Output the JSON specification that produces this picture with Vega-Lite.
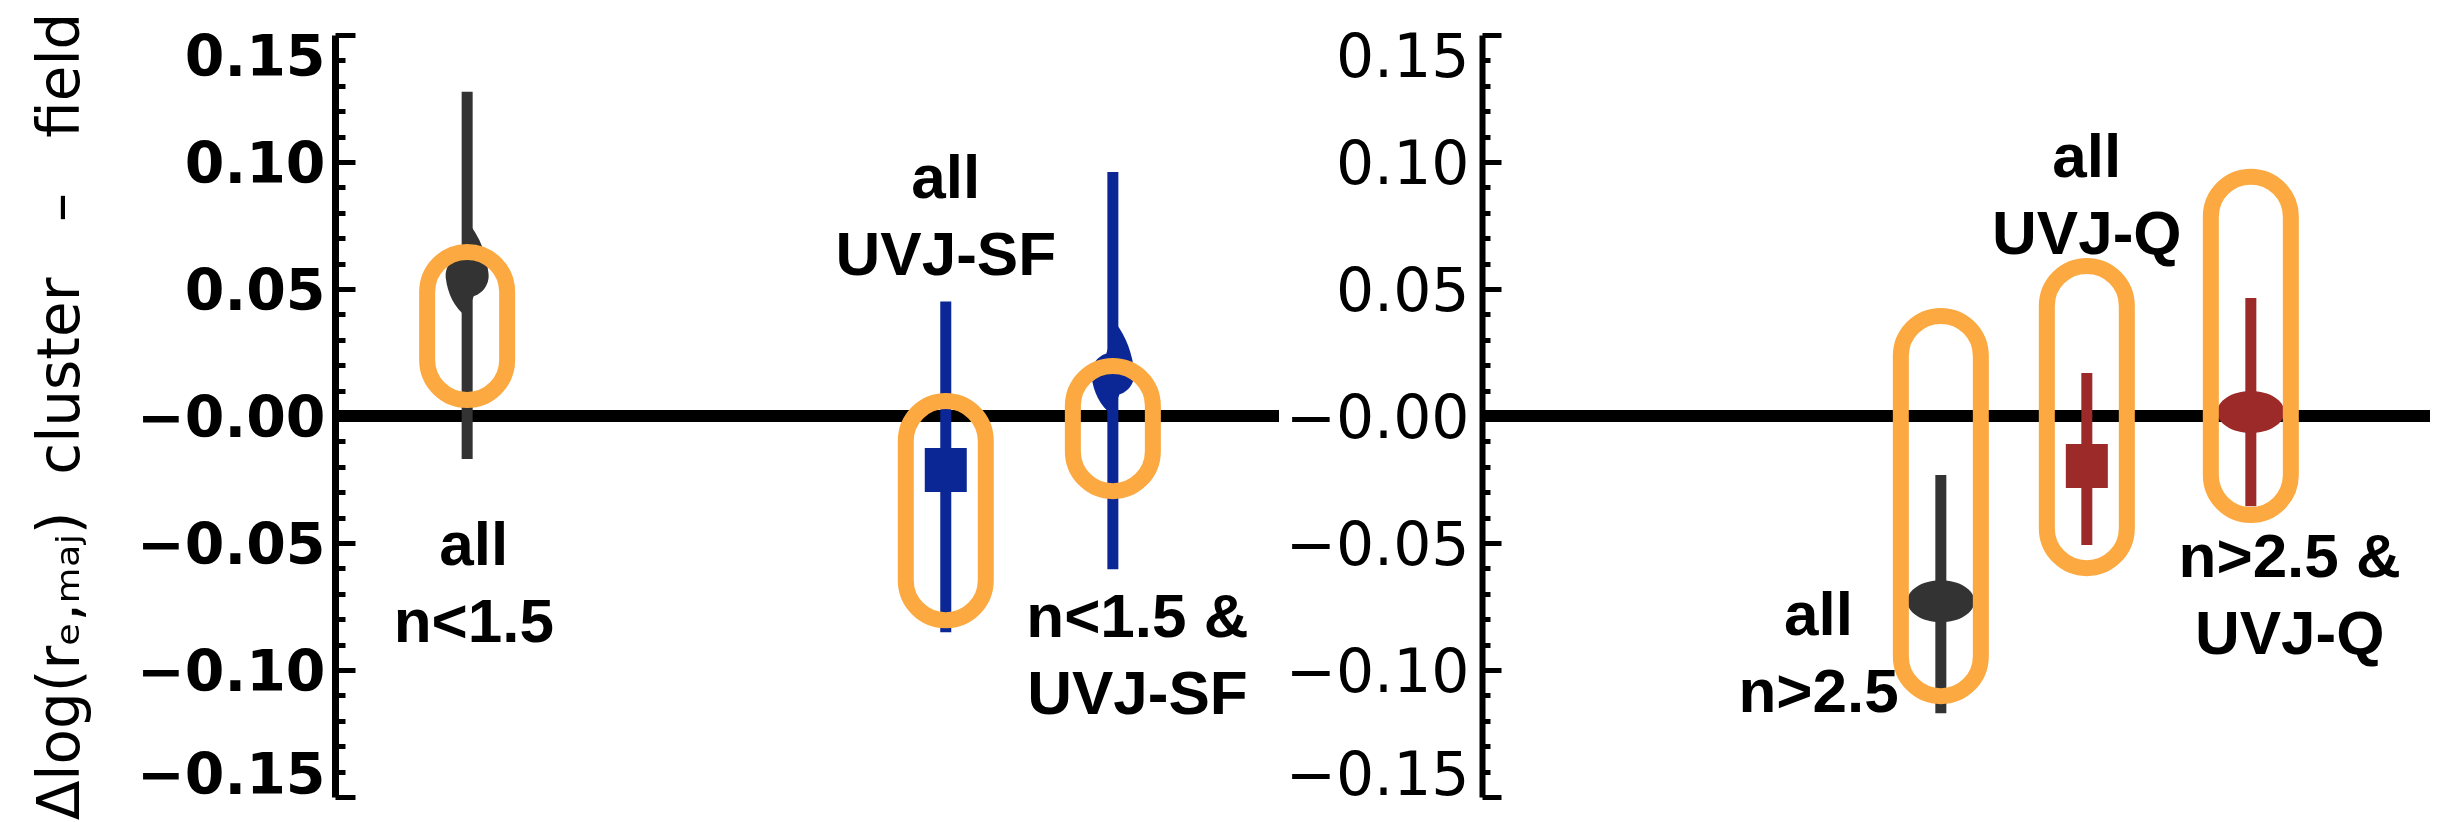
{
  "$schema": "https://vega.github.io/schema/vega-lite/v6.json",
  "background": "white",
  "padding": {"left": 32, "top": 12, "right": 0, "bottom": 0},
  "spacing": 0,
  "config": {"view": {"stroke": null}, "concat": {"spacing": 0}},
  "datasets": {
    "offsets": [
      {"panel": "left", "uvj": "all", "sersic": "n<1.5", "label": "all\nn<1.5", "x": 1.40, "y": 0.0552, "lo": -0.0169, "hi": 0.1277, "box_lo": 0.0063, "box_hi": 0.0646, "label_x": 1.47, "label_y": -0.0513},
      {"panel": "left", "uvj": "SF", "sersic": "any", "label": "all\nUVJ-SF", "x": 6.47, "y": -0.0213, "lo": -0.0851, "hi": 0.0451, "box_lo": -0.0804, "box_hi": 0.0059, "label_x": 6.47, "label_y": 0.0934},
      {"panel": "left", "uvj": "SF", "sersic": "n<1.5", "label": "n<1.5 &\nUVJ-SF", "x": 8.24, "y": 0.0165, "lo": -0.0603, "hi": 0.0961, "box_lo": -0.0296, "box_hi": 0.0197, "label_x": 8.5, "label_y": -0.0796},
      {"panel": "right", "uvj": "all", "sersic": "n>2.5", "label": "all\nn>2.5", "x": 4.84, "y": -0.0729, "lo": -0.117, "hi": -0.0232, "box_lo": -0.1103, "box_hi": 0.0394, "label_x": 3.55, "label_y": -0.0788},
      {"panel": "right", "uvj": "Q", "sersic": "any", "label": "all\nUVJ-Q", "x": 6.38, "y": -0.0197, "lo": -0.0508, "hi": 0.0169, "box_lo": -0.0599, "box_hi": 0.0591, "label_x": 6.38, "label_y": 0.1016},
      {"panel": "right", "uvj": "Q", "sersic": "n>2.5", "label": "n>2.5 &\nUVJ-Q", "x": 8.11, "y": 0.0016, "lo": -0.0355, "hi": 0.0465, "box_lo": -0.039, "box_hi": 0.0942, "label_x": 8.52, "label_y": -0.056}
    ]
  },
  "hconcat": [
    {
      "width": 944,
      "height": 762,
      "data": {"name": "offsets"},
      "transform": [{"filter": "datum.panel === 'left'"}],
      "encoding": {
        "y": {
          "type": "quantitative",
          "scale": {"domain": [-0.15, 0.15], "nice": false, "zero": false},
          "title": "Δlog(rₑ,ₘₐⱼ)\u00a0\u00a0cluster\u00a0\u00a0\u00a0–\u00a0\u00a0\u00a0field",
          "axis": {
            "titleFont": "DejaVu Sans",
            "titleFontSize": 58,
            "titleFontWeight": "normal",
            "titleColor": "black",
            "titlePadding": 46,
            "grid": false,
            "values": [-0.15, -0.14, -0.13, -0.12, -0.11, -0.10, -0.09, -0.08, -0.07, -0.06, -0.05, -0.04, -0.03, -0.02, -0.01, 0, 0.01, 0.02, 0.03, 0.04, 0.05, 0.06, 0.07, 0.08, 0.09, 0.10, 0.11, 0.12, 0.13, 0.14, 0.15],
            "labelExpr": "abs(round(datum.value * 100)) % 5 != 0 ? '' : (datum.value > 0.001 ? format(datum.value, '.2f') : '−' + format(abs(datum.value), '.2f'))",
            "labelFont": "DejaVu Sans",
            "labelFontSize": 57,
            "labelFontWeight": "bold",
            "labelColor": "black",
            "labelPadding": 30,
            "labelLimit": 400,
            "labelOverlap": false,
            "labelFlush": false,
            "labelBound": false,
            "labelOffset": {"expr": "datum.value > 0.14 ? 23 : (datum.value < -0.14 ? -21 : 3)"},
            "domainColor": "black",
            "domainWidth": 7,
            "tickColor": "black",
            "tickWidth": 5,
            "tickSize": {"expr": "abs(round(datum.value * 100)) % 5 == 0 ? -20 : -10"}
          }
        }
      },
      "layer": [
        {
          "mark": {"type": "rule", "color": "black", "strokeWidth": 12},
          "encoding": {"y": {"datum": 0, "type": "quantitative"}}
        },
        {
          "mark": {"type": "rule", "strokeWidth": 11},
          "encoding": {
            "x": {"field": "x", "type": "quantitative", "scale": {"domain": [0, 10], "padding": 0, "nice": false, "zero": false}, "axis": null},
            "y": {"field": "lo"},
            "y2": {"field": "hi"},
            "color": {"field": "uvj", "type": "nominal", "scale": {"domain": ["all", "SF", "Q"], "range": ["#333333", "#0B2795", "#9C2A28"]}, "legend": null}
          }
        },
        {
          "mark": {"type": "point", "filled": true, "opacity": 1, "size": 4489, "strokeWidth": 0},
          "encoding": {
            "x": {"field": "x", "type": "quantitative", "axis": null},
            "y": {"field": "y"},
            "color": {"field": "uvj", "type": "nominal", "scale": {"domain": ["all", "SF", "Q"], "range": ["#333333", "#0B2795", "#9C2A28"]}, "legend": null},
            "shape": {"field": "sersic", "type": "nominal", "scale": {"domain": ["n<1.5", "any", "n>2.5"], "range": ["M-0.642,0A0.642,0.642,0,1,0,0.642,0A0.642,0.642,0,1,0,-0.642,0ZM-0.64,0.05Q-0.55,0.8,-0.05,1.2L0.2,0.6ZM0.64,-0.05Q0.55,-0.9,0.1,-1.5L-0.2,-0.6Z", "M-0.627,-0.657H0.627V0.657H-0.627Z", "M-1,0A1,0.627,0,1,0,1,0A1,0.627,0,1,0,-1,0Z"]}, "legend": null}
          }
        },
        {
          "mark": {"type": "bar", "filled": false, "stroke": "#FBA940", "strokeWidth": 16, "size": 80, "cornerRadius": 40},
          "encoding": {
            "x": {"field": "x", "type": "quantitative", "axis": null},
            "y": {"field": "box_lo"},
            "y2": {"field": "box_hi"}
          }
        },
        {
          "mark": {"type": "text", "font": "Liberation Sans", "fontWeight": "bold", "fontSize": 62, "lineHeight": 77, "lineBreak": "\n", "align": "center", "baseline": "middle", "color": "black"},
          "encoding": {
            "x": {"field": "label_x", "type": "quantitative", "axis": null},
            "y": {"field": "label_y"},
            "text": {"field": "label"}
          }
        }
      ]
    },
    {
      "width": 948,
      "height": 762,
      "data": {"name": "offsets"},
      "transform": [{"filter": "datum.panel === 'right'"}],
      "encoding": {
        "y": {
          "type": "quantitative",
          "scale": {"domain": [-0.15, 0.15], "nice": false, "zero": false},
          "title": null,
          "axis": {
            "grid": false,
            "values": [-0.15, -0.14, -0.13, -0.12, -0.11, -0.10, -0.09, -0.08, -0.07, -0.06, -0.05, -0.04, -0.03, -0.02, -0.01, 0, 0.01, 0.02, 0.03, 0.04, 0.05, 0.06, 0.07, 0.08, 0.09, 0.10, 0.11, 0.12, 0.13, 0.14, 0.15],
            "labelExpr": "abs(round(datum.value * 100)) % 5 != 0 ? '' : (datum.value > 0.001 ? format(datum.value, '.2f') : '−' + format(abs(datum.value), '.2f'))",
            "labelFont": "DejaVu Sans",
            "labelFontSize": 60,
            "labelColor": "black",
            "labelPadding": 32,
            "labelLimit": 400,
            "labelOverlap": false,
            "labelFlush": false,
            "labelBound": false,
            "labelOffset": {"expr": "datum.value > 0.14 ? 23 : (datum.value < -0.14 ? -21 : 3)"},
            "domainColor": "black",
            "domainWidth": 6,
            "tickColor": "black",
            "tickWidth": 5,
            "tickSize": {"expr": "abs(round(datum.value * 100)) % 5 == 0 ? -19 : -8"}
          }
        }
      },
      "layer": [
        {
          "mark": {"type": "rule", "color": "black", "strokeWidth": 12},
          "encoding": {"y": {"datum": 0, "type": "quantitative"}}
        },
        {
          "mark": {"type": "rule", "strokeWidth": 11},
          "encoding": {
            "x": {"field": "x", "type": "quantitative", "scale": {"domain": [0, 10], "padding": 0, "nice": false, "zero": false}, "axis": null},
            "y": {"field": "lo"},
            "y2": {"field": "hi"},
            "color": {"field": "uvj", "type": "nominal", "scale": {"domain": ["all", "SF", "Q"], "range": ["#333333", "#0B2795", "#9C2A28"]}, "legend": null}
          }
        },
        {
          "mark": {"type": "point", "filled": true, "opacity": 1, "size": 4489, "strokeWidth": 0},
          "encoding": {
            "x": {"field": "x", "type": "quantitative", "axis": null},
            "y": {"field": "y"},
            "color": {"field": "uvj", "type": "nominal", "scale": {"domain": ["all", "SF", "Q"], "range": ["#333333", "#0B2795", "#9C2A28"]}, "legend": null},
            "shape": {"field": "sersic", "type": "nominal", "scale": {"domain": ["n<1.5", "any", "n>2.5"], "range": ["M-0.642,0A0.642,0.642,0,1,0,0.642,0A0.642,0.642,0,1,0,-0.642,0ZM-0.64,0.05Q-0.55,0.8,-0.05,1.2L0.2,0.6ZM0.64,-0.05Q0.55,-0.9,0.1,-1.5L-0.2,-0.6Z", "M-0.627,-0.657H0.627V0.657H-0.627Z", "M-1,0A1,0.627,0,1,0,1,0A1,0.627,0,1,0,-1,0Z"]}, "legend": null}
          }
        },
        {
          "mark": {"type": "bar", "filled": false, "stroke": "#FBA940", "strokeWidth": 16, "size": 80, "cornerRadius": 40},
          "encoding": {
            "x": {"field": "x", "type": "quantitative", "axis": null},
            "y": {"field": "box_lo"},
            "y2": {"field": "box_hi"}
          }
        },
        {
          "mark": {"type": "text", "font": "Liberation Sans", "fontWeight": "bold", "fontSize": 62, "lineHeight": 77, "lineBreak": "\n", "align": "center", "baseline": "middle", "color": "black"},
          "encoding": {
            "x": {"field": "label_x", "type": "quantitative", "axis": null},
            "y": {"field": "label_y"},
            "text": {"field": "label"}
          }
        }
      ]
    }
  ]
}
